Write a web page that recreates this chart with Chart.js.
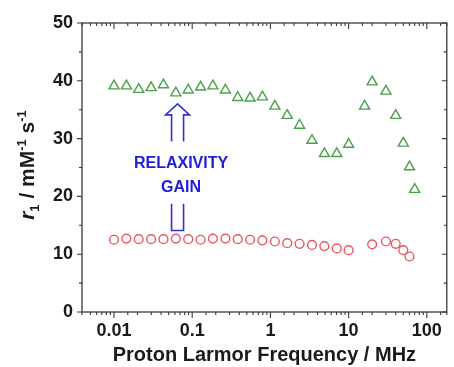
<!DOCTYPE html>
<html>
<head>
<meta charset="utf-8">
<script src="https://cdn.jsdelivr.net/npm/chart.js@4.4.1/dist/chart.umd.min.js"></script>
<style>
  html, body { margin: 0; padding: 0; background: #fff; }
  #wrap { width: 454px; height: 367px; position: relative; }
</style>
</head>
<body>
<div id="wrap"><canvas id="r1Chart"></canvas></div>
<script>
// field-cycling frequencies (MHz) and high-field points
const freqLow = [0.01, 0.0144, 0.0207, 0.0298, 0.0429, 0.0618, 0.089, 0.128, 0.184, 0.266,
                 0.382, 0.55, 0.79, 1.14, 1.64, 2.36, 3.4, 4.9, 7.05, 10];
const freqHighGreen = [16, 20, 30, 40, 50, 60, 70];
const freqHighRed = [20, 30, 40, 50, 60];

// r1 values, mM-1 s-1
const greenLow = [39.1, 39.1, 38.5, 38.8, 39.3, 37.9, 38.4, 38.9, 39.1, 38.4,
                  37.1, 37.0, 37.2, 35.6, 34.0, 32.3, 29.7, 27.4, 27.4, 29.0];
const greenHigh = [35.6, 39.8, 38.2, 34.0, 29.2, 25.1, 21.2];
const redLow = [12.5, 12.7, 12.6, 12.6, 12.6, 12.7, 12.6, 12.5, 12.7, 12.7,
                12.6, 12.5, 12.4, 12.2, 11.9, 11.8, 11.6, 11.4, 11.0, 10.7];
const redHigh = [11.7, 12.2, 11.8, 10.7, 9.6];

const xTickLabels = ['0.01', '0.1', '1', '10', '100'];

// annotation anchor (data units)
const arrowFreq = 0.065;
const arrowTipY = 36.0, arrowHeadY = 34.1, arrowFootY = 29.5;
const stubTopY = 18.75, stubBottomY = 14.1;
const gainText = ['RELAXIVITY', 'GAIN'];
const gainTextY = [25.7, 21.6];
const gainTextFreq = 0.072;

const toPoints = (xs, ys) => xs.map((x, i) => ({ x: x, y: ys[i] }));

const isDecade = v => Math.abs(Math.log10(v) - Math.round(Math.log10(v))) < 1e-6;

// frame, tick marks, y title and the relaxivity-gain arrow
const decorPlugin = {
    id: 'decor',
    afterDraw(chart) {
        const ctx = chart.ctx;
        const a = chart.chartArea;
        const xs = chart.scales.x, ys = chart.scales.y;
        ctx.save();

        ctx.strokeStyle = '#3a3a3a';
        ctx.lineWidth = 1.3;
        ctx.strokeRect(a.left, a.top, a.right - a.left, a.bottom - a.top);

        ctx.lineWidth = 1.1;
        ctx.beginPath();
        xs.ticks.forEach(t => {
            const px = xs.getPixelForValue(t.value);
            if (px < a.left - 0.5 || px > a.right + 0.5) return;
            const len = isDecade(t.value) ? 6 : 3;
            ctx.moveTo(px, a.bottom); ctx.lineTo(px, a.bottom + len);
            ctx.moveTo(px, a.top); ctx.lineTo(px, a.top + len);
        });
        ys.ticks.forEach(t => {
            const py = ys.getPixelForValue(t.value);
            const len = t.value % 10 === 0 ? 5 : 3;
            ctx.moveTo(a.left, py); ctx.lineTo(a.left - len, py);
            ctx.moveTo(a.right, py); ctx.lineTo(a.right - len, py);
        });
        ctx.stroke();

        // y axis title: r1 / mM-1 s-1
        const parts = [
            { t: 'r', f: 'italic bold 21px "Liberation Sans", Arial, sans-serif', dy: 0 },
            { t: '1', f: 'bold 13px "Liberation Sans", Arial, sans-serif', dy: 5 },
            { t: ' / mM', f: 'bold 21px "Liberation Sans", Arial, sans-serif', dy: 0 },
            { t: '-1', f: 'bold 13px "Liberation Sans", Arial, sans-serif', dy: -8 },
            { t: ' s', f: 'bold 21px "Liberation Sans", Arial, sans-serif', dy: 0 },
            { t: '-1', f: 'bold 13px "Liberation Sans", Arial, sans-serif', dy: -8 }
        ];
        let total = 0;
        parts.forEach(p => { ctx.font = p.f; p.w = ctx.measureText(p.t).width; total += p.w; });
        ctx.translate(34, 165);
        ctx.rotate(-Math.PI / 2);
        ctx.fillStyle = '#1a1a1a';
        ctx.textBaseline = 'alphabetic';
        ctx.textAlign = 'left';
        let cx = -total / 2;
        parts.forEach(p => { ctx.font = p.f; ctx.fillText(p.t, cx, p.dy); cx += p.w; });
        ctx.setTransform(1, 0, 0, 1, 0, 0);

        // hollow arrow + lower stub
        const c = xs.getPixelForValue(arrowFreq);
        const yTip = ys.getPixelForValue(arrowTipY);
        const yHead = ys.getPixelForValue(arrowHeadY);
        const yFoot = ys.getPixelForValue(arrowFootY);
        ctx.strokeStyle = '#3030d8';
        ctx.lineWidth = 1.6;
        ctx.beginPath();
        ctx.moveTo(c - 6, yFoot);
        ctx.lineTo(c - 6, yHead);
        ctx.lineTo(c - 12, yHead);
        ctx.lineTo(c, yTip);
        ctx.lineTo(c + 12, yHead);
        ctx.lineTo(c + 6, yHead);
        ctx.lineTo(c + 6, yFoot);
        ctx.stroke();
        ctx.beginPath();
        ctx.moveTo(c - 6, ys.getPixelForValue(stubTopY));
        ctx.lineTo(c - 6, ys.getPixelForValue(stubBottomY));
        ctx.lineTo(c + 6, ys.getPixelForValue(stubBottomY));
        ctx.lineTo(c + 6, ys.getPixelForValue(stubTopY));
        ctx.stroke();

        ctx.fillStyle = '#2020d8';
        ctx.font = 'bold 16px "Liberation Sans", Arial, sans-serif';
        ctx.textAlign = 'center';
        ctx.textBaseline = 'middle';
        const tx = xs.getPixelForValue(gainTextFreq);
        gainText.forEach((s, i) => ctx.fillText(s, tx, ys.getPixelForValue(gainTextY[i])));

        ctx.restore();
    }
};

const tickFont = { family: '"Liberation Sans", Arial, sans-serif', size: 18, weight: 'bold' };

new Chart(document.getElementById('r1Chart'), {
    type: 'scatter',
    data: {
        datasets: [
            {
                label: 'green',
                data: toPoints(freqLow.concat(freqHighGreen), greenLow.concat(greenHigh)),
                pointStyle: 'triangle',
                radius: 5.8,
                borderColor: 'rgba(55,150,55,0.9)',
                backgroundColor: 'rgba(0,0,0,0)',
                borderWidth: 1.4
            },
            {
                label: 'red',
                data: toPoints(freqLow.concat(freqHighRed), redLow.concat(redHigh)),
                pointStyle: 'circle',
                radius: 4.4,
                borderColor: 'rgba(230,70,85,0.9)',
                backgroundColor: 'rgba(0,0,0,0)',
                borderWidth: 1.4
            }
        ]
    },
    options: {
        responsive: true,
        maintainAspectRatio: false,
        animation: false,
        layout: { padding: { top: 23, right: 1, left: 0, bottom: 0 } },
        plugins: { legend: { display: false }, tooltip: { enabled: false } },
        scales: {
            x: {
                type: 'logarithmic',
                min: 0.0039,
                max: 180,
                border: { display: false },
                grid: { display: true, drawOnChartArea: false, drawTicks: true, tickLength: 6, tickColor: 'rgba(0,0,0,0)' },
                ticks: {
                    autoSkip: false,
                    maxRotation: 0,
                    padding: 2,
                    color: '#1a1a1a',
                    font: tickFont,
                    callback: v => {
                        if (!isDecade(v)) return '';
                        const s = String(Number(v.toPrecision(3)));
                        return xTickLabels.includes(s) ? s : '';
                    }
                },
                title: {
                    display: true,
                    text: 'Proton Larmor Frequency / MHz',
                    color: '#1a1a1a',
                    font: { family: '"Liberation Sans", Arial, sans-serif', size: 20, weight: 'bold' },
                    padding: { top: 0, bottom: 0 }
                },
                afterFit: s => { s.height = 55; }
            },
            y: {
                min: 0,
                max: 50,
                border: { display: false },
                grid: { display: true, drawOnChartArea: false, drawTicks: true, tickLength: 5, tickColor: 'rgba(0,0,0,0)' },
                ticks: {
                    stepSize: 5,
                    padding: 4,
                    color: '#1a1a1a',
                    font: tickFont,
                    callback: v => (v % 10 === 0 ? String(v) : '')
                },
                afterFit: s => { s.width = 82; }
            }
        }
    },
    plugins: [decorPlugin]
});
</script>
</body>
</html>
